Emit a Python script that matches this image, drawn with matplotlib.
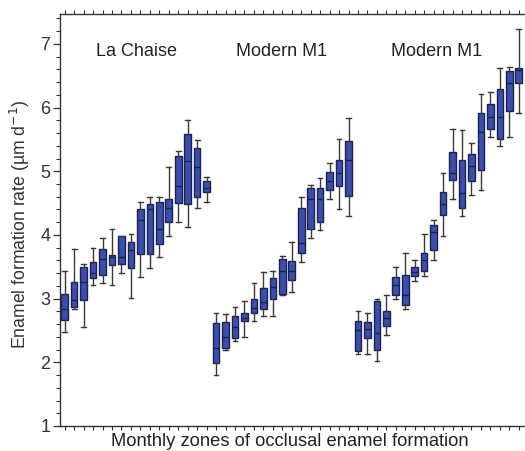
import matplotlib
matplotlib.use("Agg")
import matplotlib.pyplot as plt
from matplotlib.ticker import MultipleLocator, FixedLocator, NullFormatter

plt.rcParams['font.family'] = ['Liberation Sans', 'DejaVu Sans']

groups = ["La Chaise", "Modern M1", "Modern M1"]

# La Chaise (16 monthly zones)
lc_low = [2.47, 2.83, 2.56, 3.21, 3.24, 3.21, 3.41, 3.01, 3.34, 3.48, 3.66, 3.98, 4.21, 4.12, 4.42, 4.52]
lc_q1  = [2.67, 2.87, 2.98, 3.32, 3.37, 3.53, 3.55, 3.48, 3.70, 3.70, 3.86, 4.21, 4.50, 4.48, 4.59, 4.68]
lc_med = [2.83, 2.98, 3.26, 3.41, 3.62, 3.65, 3.65, 3.76, 4.23, 4.41, 4.09, 4.43, 4.77, 5.16, 5.06, 4.73]
lc_q3  = [3.08, 3.26, 3.49, 3.58, 3.78, 3.69, 3.98, 3.89, 4.41, 4.48, 4.52, 4.57, 5.24, 5.58, 5.36, 4.84]
lc_high= [3.44, 3.78, 3.55, 3.80, 3.96, 4.09, 3.99, 4.01, 4.51, 4.59, 4.59, 5.07, 5.32, 5.80, 5.49, 4.91]

# Modern M1, first tooth (15 zones)
m1_low = [1.80, 2.20, 2.33, 2.40, 2.65, 2.72, 2.72, 3.06, 3.10, 3.58, 3.96, 4.08, 4.57, 4.41, 4.30]
m1_q1  = [1.99, 2.22, 2.38, 2.65, 2.78, 2.83, 3.00, 3.07, 3.30, 3.71, 4.09, 4.21, 4.70, 4.77, 4.61]
m1_med = [2.23, 2.39, 2.56, 2.69, 2.86, 2.95, 3.18, 3.44, 3.44, 3.87, 4.57, 4.57, 4.84, 4.97, 5.18]
m1_q3  = [2.62, 2.63, 2.72, 2.78, 3.00, 3.17, 3.32, 3.62, 3.59, 4.43, 4.73, 4.73, 4.99, 5.18, 5.47]
m1_high= [2.78, 2.76, 2.87, 2.97, 3.24, 3.42, 3.44, 3.67, 3.89, 4.59, 4.79, 4.90, 5.13, 5.51, 5.83]

# Modern M1, second tooth (18 zones)
m2_low = [2.13, 2.13, 2.02, 2.43, 2.99, 2.83, 3.28, 3.35, 3.60, 3.98, 4.56, 4.30, 4.62, 4.70, 5.54, 5.40, 5.54, 5.92]
m2_q1  = [2.18, 2.38, 2.20, 2.57, 3.06, 2.90, 3.36, 3.44, 3.76, 4.32, 4.86, 4.43, 4.84, 5.02, 5.66, 5.50, 5.95, 6.38]
m2_med = [2.50, 2.52, 2.46, 2.70, 3.21, 3.06, 3.42, 3.60, 4.05, 4.48, 4.98, 4.66, 5.09, 5.61, 5.85, 5.86, 6.38, 6.59]
m2_q3  = [2.65, 2.63, 2.97, 2.81, 3.34, 3.37, 3.49, 3.71, 4.16, 4.68, 5.31, 5.18, 5.27, 5.92, 6.05, 6.29, 6.58, 6.62]
m2_high= [2.81, 2.78, 2.99, 3.06, 3.50, 3.71, 3.60, 4.02, 4.23, 4.98, 5.67, 5.65, 5.45, 6.21, 6.24, 6.62, 6.64, 7.23]

series = [
    (lc_low, lc_q1, lc_med, lc_q3, lc_high),
    (m1_low, m1_q1, m1_med, m1_q3, m1_high),
    (m2_low, m2_q1, m2_med, m2_q3, m2_high),
]

stats = []
for lo, q1, med, q3, hi in series:
    for a, b, c, d, e in zip(lo, q1, med, q3, hi):
        stats.append(dict(whislo=a, q1=b, med=c, q3=d, whishi=e, fliers=[]))

positions = list(range(1, len(stats) + 1))

fig = plt.figure(figsize=(5.25, 4.51), dpi=100)
AX_L, AX_B, AX_W, AX_H = 60, 25, 463.5, 412
ax = fig.add_axes([AX_L/525, AX_B/451, AX_W/525, AX_H/451])

face = "#3b4eab"
edge = "#1c2250"
wcol = "#3a3a3a"
ax.bxp(stats, positions=positions, widths=0.7, patch_artist=True, showfliers=False,
       boxprops=dict(facecolor=face, edgecolor=edge, linewidth=1.0),
       medianprops=dict(color=edge, linewidth=1.0),
       whiskerprops=dict(color=wcol, linewidth=1.0),
       capprops=dict(color=wcol, linewidth=1.0),
       capwidths=0.5, manage_ticks=False)

ax.set_xlim(0.5, len(stats) + 0.5)
ax.set_ylim(1, 7.47)

ax.yaxis.set_major_locator(MultipleLocator(1))
ax.yaxis.set_minor_locator(MultipleLocator(0.2))
ax.xaxis.set_major_locator(FixedLocator(positions))
ax.xaxis.set_major_formatter(NullFormatter())

ax.spines['right'].set_visible(False)
for s in ['left', 'bottom', 'top']:
    ax.spines[s].set_color('#333333')
    ax.spines[s].set_linewidth(1.0)

ax.tick_params(axis='y', which='major', direction='out', length=5, width=0.9,
               colors='#333333', labelsize=13, pad=2)
ax.tick_params(axis='y', which='minor', direction='out', length=3, width=0.8, colors='#333333')
ax.tick_params(axis='x', which='major', direction='out', length=3, width=0.8,
               colors='#333333', top=True, bottom=True)

ax.set_ylabel("Enamel formation rate (µm d$^{-1}$)", fontsize=12.7, color='#333333')
ax.yaxis.set_label_coords((20 - AX_L) / AX_W, 0.49)
ax.set_xlabel("Monthly zones of occlusal enamel formation", fontsize=13.2, color='#222222')
ax.xaxis.set_label_coords((290 - AX_L) / AX_W, -(441 - (451 - AX_B)) / AX_H)
ax.xaxis.label.set_va('center')
ax.yaxis.label.set_va('center')

label_x = [137, 282, 437]
for name, xpix in zip(groups, label_x):
    ax.text((xpix - AX_L) / AX_W, (451 - 52 - AX_B) / AX_H, name, transform=ax.transAxes,
            ha='center', va='center', fontsize=13, color='#222222')

fig.savefig("out.png", dpi=100)
